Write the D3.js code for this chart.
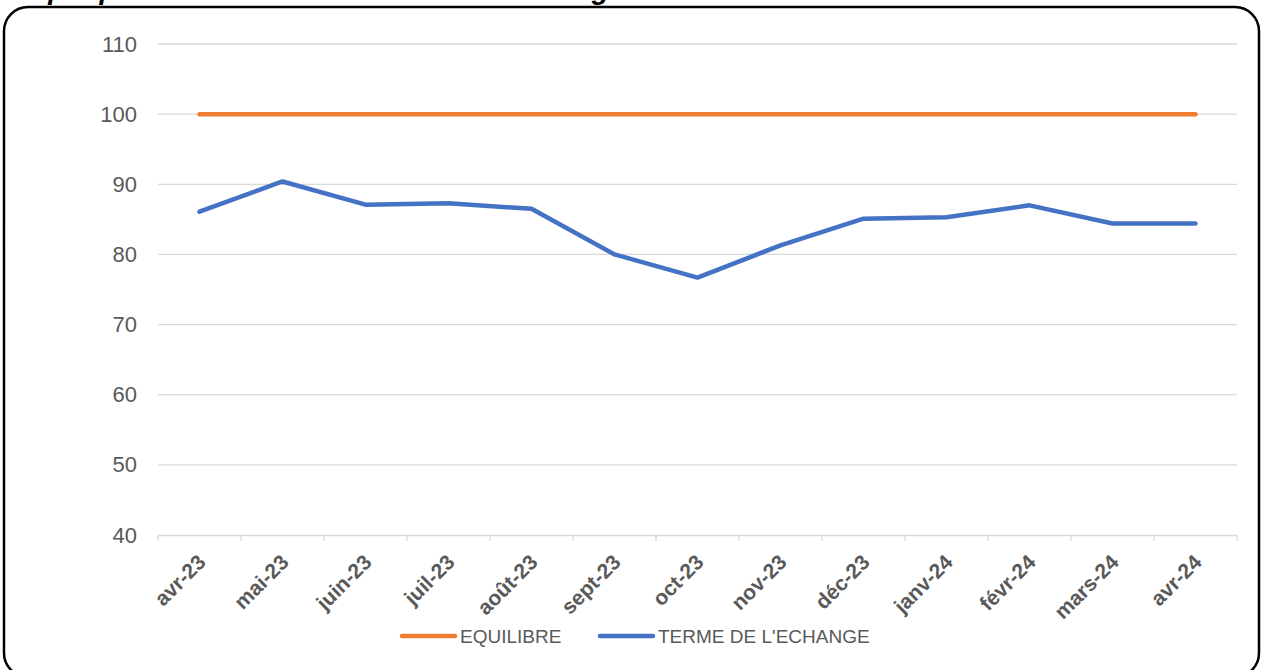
<!DOCTYPE html>
<html>
<head>
<meta charset="utf-8">
<script src="https://cdn.jsdelivr.net/npm/d3@7"></script>
<style>
  body { margin: 0; background: #fff; }
  svg { display: block; font-family: "Liberation Sans", Arial, sans-serif; }
</style>
</head>
<body>
<svg id="chart" width="1263" height="670"></svg>
<script>
var months = ["avr-23", "mai-23", "juin-23", "juil-23", "août-23", "sept-23", "oct-23",
    "nov-23", "déc-23", "janv-24", "févr-24", "mars-24", "avr-24"];
var equilibre = [100, 100, 100, 100, 100, 100, 100, 100, 100, 100, 100, 100, 100];
var termeEchange = [86.1, 90.4, 87.1, 87.3, 86.5, 80.0, 76.7, 81.3, 85.1, 85.3, 87.0, 84.4, 84.4];
var yTicks = [40, 50, 60, 70, 80, 90, 100, 110];
var seriesNames = ["EQUILIBRE", "TERME DE L'ECHANGE"];

var svg = d3.select("#chart");
var width = 1263, height = 670;
var margin = { top: 44, right: 26, bottom: 135, left: 158 };
var innerW = width - margin.left - margin.right,
    innerH = height - margin.top - margin.bottom;

// titre (coupé en haut comme dans l'original) + cadre arrondi
svg.append("text")
    .attr("x", 0)
    .attr("y", -1)
    .style("font-size", "28px")
    .style("font-weight", "bold")
    .style("font-style", "italic")
    .text("Graphique : Evolution des termes de l'échange");

svg.append("rect")
    .attr("x", 4).attr("y", 7)
    .attr("width", 1255).attr("height", 670)
    .attr("rx", 24).attr("ry", 24)
    .attr("fill", "none")
    .attr("stroke", "#000")
    .attr("stroke-width", 2.5);

var g = svg.append("g")
    .attr("transform", "translate(" + margin.left + "," + margin.top + ")");

var x = d3.scaleBand().domain(months).range([0, innerW]);
var y = d3.scaleLinear().domain([40, 110]).range([innerH, 0]);

// grille
g.selectAll(".grid")
    .data(yTicks.slice(1))
    .enter().append("line")
    .attr("x1", 0).attr("x2", innerW)
    .attr("y1", function (d) { return y(d); })
    .attr("y2", function (d) { return y(d); })
    .attr("stroke", "#d9d9d9")
    .attr("stroke-width", 1.3);

// axe y
var yAxis = g.append("g")
    .call(d3.axisLeft(y).tickValues(yTicks).tickSize(0).tickPadding(21));
yAxis.select(".domain").remove();
yAxis.selectAll("text")
    .style("font-size", "22px")
    .attr("fill", "#595959");

// axe x
var xAxis = g.append("g")
    .attr("transform", "translate(0," + innerH + ")")
    .call(d3.axisBottom(x).tickSize(0));
xAxis.select(".domain").attr("stroke", "#d9d9d9").attr("stroke-width", 1.3);
xAxis.selectAll(".tick line").remove();
xAxis.selectAll("text").remove();

var bounds = months.map(function (m) { return x(m); }).concat([innerW]);
xAxis.selectAll(".bound")
    .data(bounds)
    .enter().append("line")
    .attr("x1", function (d) { return d; })
    .attr("x2", function (d) { return d; })
    .attr("y1", 0).attr("y2", 6)
    .attr("stroke", "#d9d9d9")
    .attr("stroke-width", 1.3);

xAxis.selectAll(".lbl")
    .data(months)
    .enter().append("text")
    .attr("transform", function (d) {
        return "translate(" + (x(d) + x.bandwidth() / 2 - 3) + ",18) rotate(-45)";
    })
    .attr("text-anchor", "end")
    .attr("dy", "0.7em")
    .style("font-size", "21px")
    .style("font-weight", "bold")
    .attr("fill", "#595959")
    .text(function (d) { return d; });

// lignes
var line = d3.line()
    .x(function (d, i) { return x(months[i]) + x.bandwidth() / 2; })
    .y(function (d) { return y(d); });

var colors = ["#ED7D31", "#4472C4"];
[equilibre, termeEchange].forEach(function (s, i) {
    g.append("path")
        .datum(s)
        .attr("d", line)
        .attr("fill", "none")
        .attr("stroke", colors[i])
        .attr("stroke-width", 4.5)
        .attr("stroke-linecap", "round")
        .attr("stroke-linejoin", "round");
});

// légende
var legendPos = [400, 598];
var legend = svg.selectAll(".legend")
    .data(seriesNames)
    .enter().append("g")
    .attr("transform", function (d, i) { return "translate(" + legendPos[i] + ",636)"; });
legend.append("line")
    .attr("x1", 2).attr("x2", 55)
    .attr("stroke", function (d, i) { return colors[i]; })
    .attr("stroke-width", 4.5)
    .attr("stroke-linecap", "round");
legend.append("text")
    .attr("x", 60)
    .attr("dy", "0.35em")
    .style("font-size", "19px")
    .attr("fill", "#595959")
    .text(function (d) { return d; });
</script>
</body>
</html>
